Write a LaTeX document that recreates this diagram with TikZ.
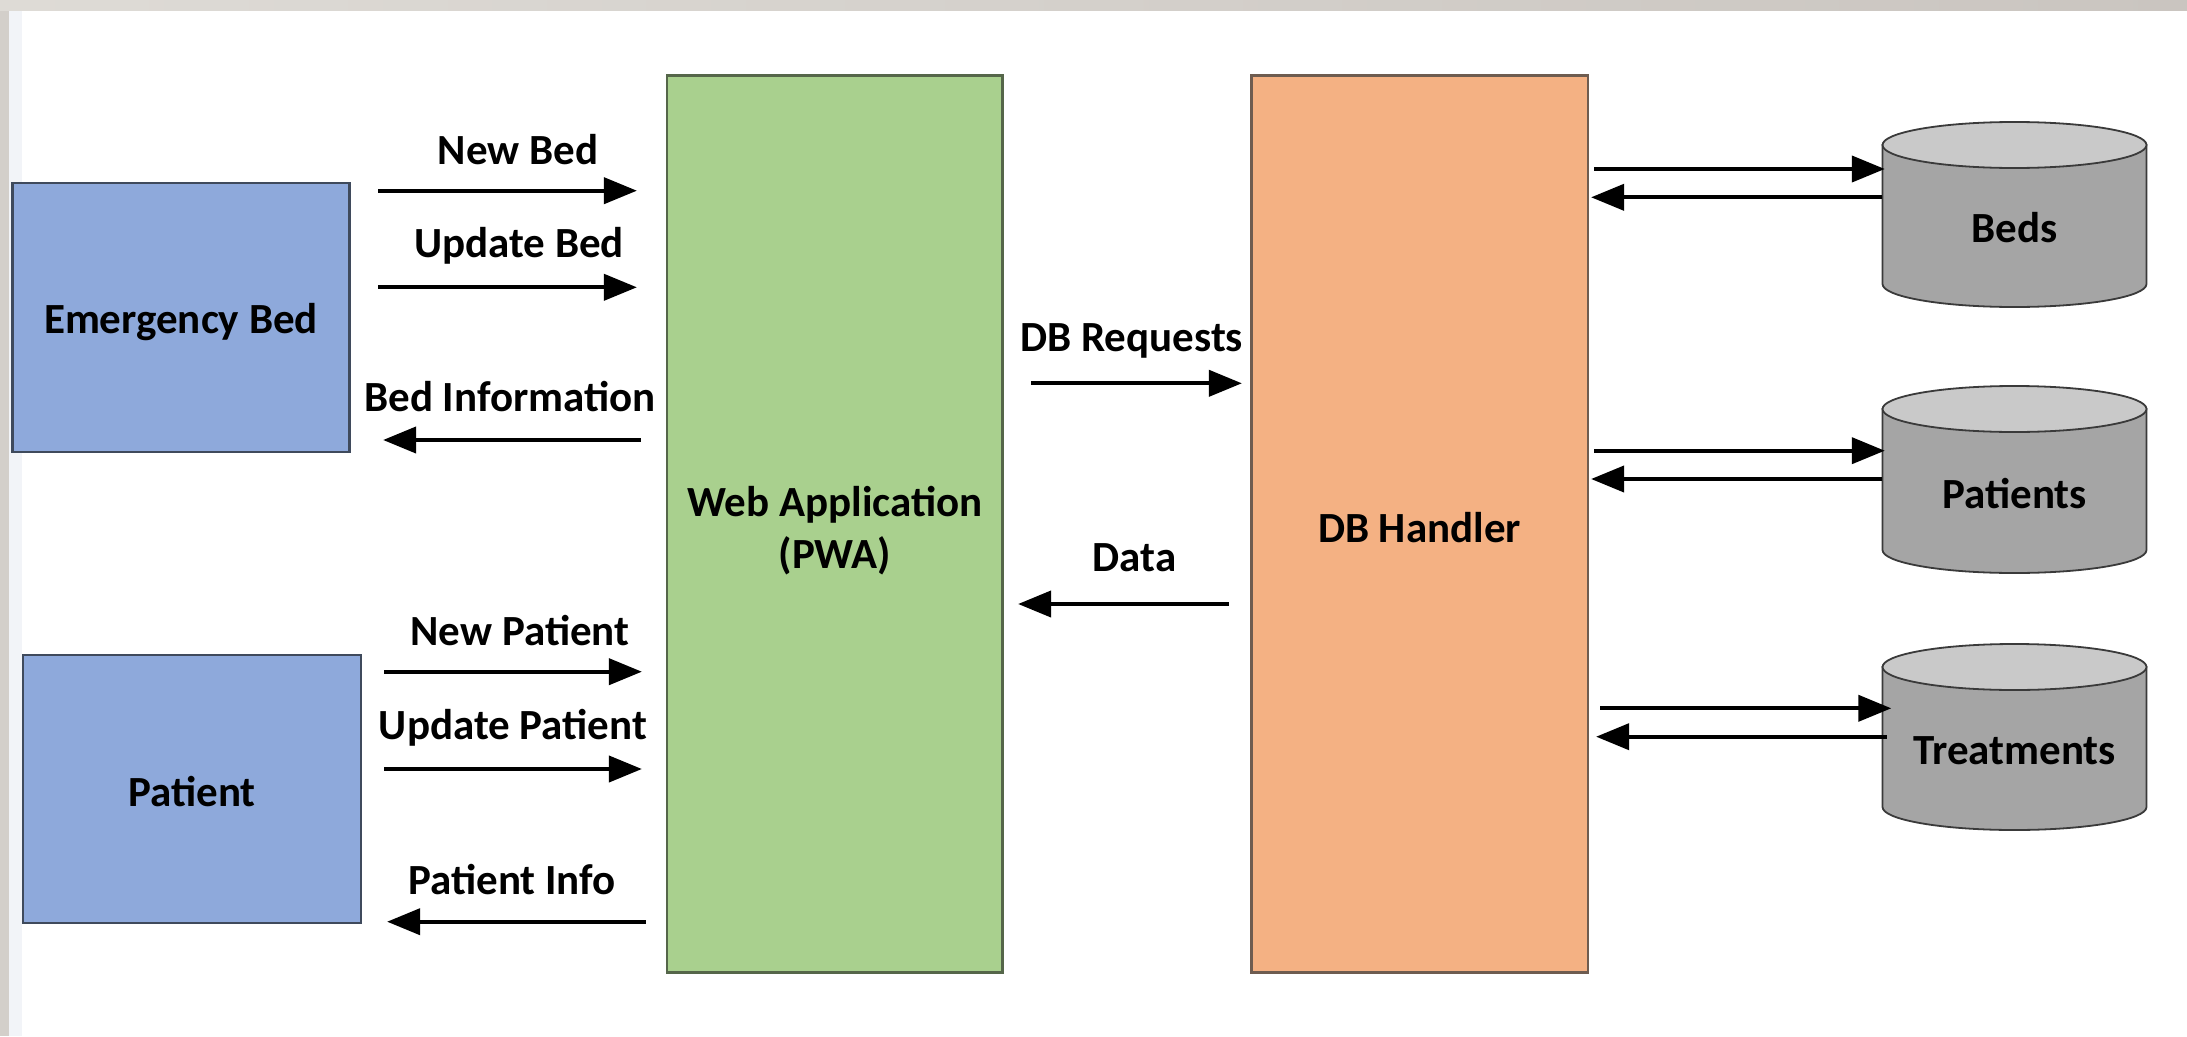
\documentclass[tikz,border=0pt]{standalone}
\usepackage{fontspec}
\setmainfont{Carlito}
\usetikzlibrary{arrows.meta}
\newcommand\lblfont{\fontsize{43}{52}\selectfont\bfseries}
\definecolor{bluefill}{HTML}{8EA9DB}
\definecolor{blueline}{HTML}{3F4A5C}
\definecolor{greenfill}{HTML}{A9D08E}
\definecolor{greenline}{HTML}{55664A}
\definecolor{orangefill}{HTML}{F4B183}
\definecolor{orangeline}{HTML}{6E5C50}
\definecolor{cylside}{HTML}{A5A5A5}
\definecolor{cyltop}{HTML}{C9C9C9}
\definecolor{cylline}{HTML}{3A3A3A}
\definecolor{stripA}{HTML}{DEDBD6}
\definecolor{stripB}{HTML}{CAC5C0}
\definecolor{stripL}{HTML}{D3CFCA}
\definecolor{stripLL}{HTML}{F2F4F8}
\begin{document}
\begin{tikzpicture}[x=1pt,y=-1pt,
  box/.style={draw, line width=2.2pt, inner sep=0pt},
  lbl/.style={font=\lblfont, inner sep=0pt},
  arr/.style={line width=4pt, -{Triangle[length=33pt,width=26pt]}},
  cylshape/.style={fill=cylside, draw=cylline, line width=1.8pt},
  cyltopst/.style={fill=cyltop, draw=cylline, line width=1.8pt}]
\useasboundingbox (0,0) rectangle (2187,1036);
\fill[white] (0,0) rectangle (2187,1036);
% window chrome
\fill[stripLL] (9,0) rectangle (22,1036);
\fill[stripL] (0,0) rectangle (9,1036);
\shade[left color=stripA, right color=stripB] (0,0) rectangle (2187,10);

% main boxes
\node[box, fill=bluefill, draw=blueline, minimum width=337pt, minimum height=269pt] (eb) at (181,317.5) {};
\node[lbl] (ebtxt) at (181,321.7) {Emergency Bed};
\node[box, fill=bluefill, draw=blueline, minimum width=338pt, minimum height=268pt] (pt) at (192,789) {};
\node[lbl] (pttxt) at (192,791.8) {Patient};
\node[box, fill=greenfill, draw=greenline, minimum width=335.5pt, minimum height=897pt] (web) at (834.75,524) {};
\node[lbl, align=center] (webtxt) at (835,530.5) {Web Application\\(PWA)};
\node[box, fill=orangefill, draw=orangeline, minimum width=336.5pt, minimum height=897pt] (dbh) at (1419.75,524) {};
\node[lbl] (dbhtxt) at (1419.5,528) {DB Handler};

% cylinders
\foreach \nm/\yt/\yb/\ty/\txt in {beds/145/284/228/Beds, pats/409/550/494/Patients, treat/667/807/751/Treatments}{
  \path[cylshape] (1882.5,\yt) -- (1882.5,\yb) arc (180:0:132 and 23) -- (2146.5,\yt) -- cycle;
  \path[cyltopst] (2014.5,\yt) ellipse (132 and 23);
  \node[inner sep=0pt, minimum width=264pt, minimum height=\yb-\yt+46pt] (\nm) at (2014.5,{(\yt+\yb)/2}) {};
  \node[lbl] (\nm txt) at (2014.5,\ty) {\txt};
}

% row coordinates
\coordinate (rNB) at (0,190.7);
\coordinate (rUB) at (0,287.3);
\coordinate (rBI) at (0,440);
\coordinate (rNP) at (0,671.7);
\coordinate (rUP) at (0,769);
\coordinate (rPI) at (0,921.7);
\coordinate (rDR) at (0,383.3);
\coordinate (rDA) at (0,604);
\coordinate (rB1) at (0,169);
\coordinate (rB2) at (0,197.3);
\coordinate (rP1) at (0,450.7);
\coordinate (rP2) at (0,479);
\coordinate (rT1) at (0,708.3);
\coordinate (rT2) at (0,736.7);

% left arrows
\draw[arr] ([xshift=27.5pt]eb.east |- rNB) -- ([xshift=-29pt]web.west |- rNB);
\draw[arr] ([xshift=27.5pt]eb.east |- rUB) -- ([xshift=-29pt]web.west |- rUB);
\draw[arr] ([xshift=-25pt]web.west |- rBI) -- ([xshift=32.5pt]eb.east |- rBI);
\draw[arr] ([xshift=22pt]pt.east |- rNP) -- ([xshift=-24pt]web.west |- rNP);
\draw[arr] ([xshift=22pt]pt.east |- rUP) -- ([xshift=-24pt]web.west |- rUP);
\draw[arr] ([xshift=-20pt]web.west |- rPI) -- ([xshift=25pt]pt.east |- rPI);

\node[lbl] (lNB) at (518,150) {New Bed};
\node[lbl] (lUB) at (519,246) {Update Bed};
\node[lbl] (lBI) at (510,397) {Bed Information};
\node[lbl] (lNP) at (520,631) {New Patient};
\node[lbl] (lUP) at (513,728) {Update Patient};
\node[lbl] (lPI) at (512,880) {Patient Info};

% middle arrows
\draw[arr] ([xshift=27.5pt]web.east |- rDR) -- ([xshift=-8.5pt]dbh.west |- rDR);
\draw[arr] ([xshift=-21.5pt]dbh.west |- rDA) -- ([xshift=14.5pt]web.east |- rDA);
\node[lbl] (lDR) at (1131.7,341) {DB Requests};
\node[lbl] (lDA) at (1134.7,558) {Data};

% database arrows
\draw[arr] ([xshift=5pt]dbh.east |- rB1) -- ([xshift=2.5pt]beds.west |- rB1);
\draw[arr] (beds.west |- rB2) -- ([xshift=2pt]dbh.east |- rB2);
\draw[arr] ([xshift=5pt]dbh.east |- rP1) -- ([xshift=2.5pt]pats.west |- rP1);
\draw[arr] (pats.west |- rP2) -- ([xshift=2pt]dbh.east |- rP2);
\draw[arr] ([xshift=11pt]dbh.east |- rT1) -- ([xshift=9pt]treat.west |- rT1);
\draw[arr] ([xshift=4.5pt]treat.west |- rT2) -- ([xshift=7pt]dbh.east |- rT2);
\end{tikzpicture}
\end{document}
